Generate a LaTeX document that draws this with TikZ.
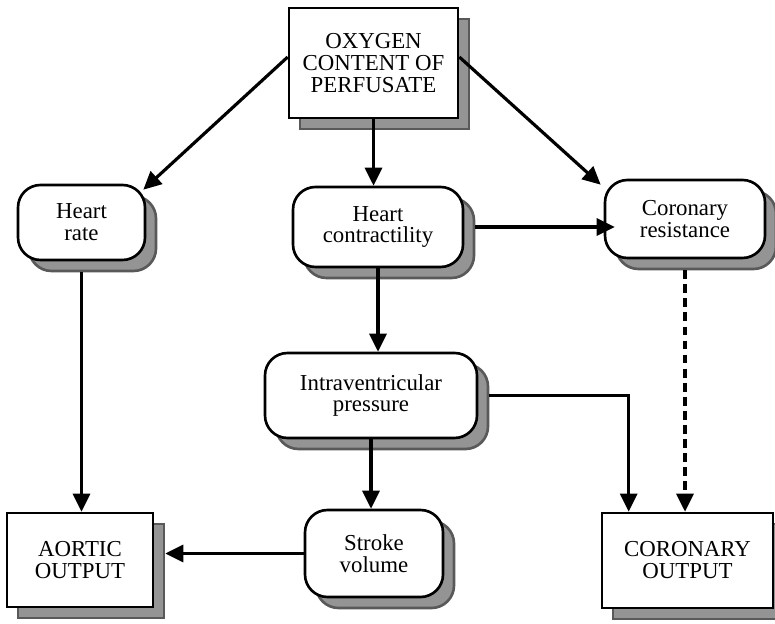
\documentclass[tikz,border=0pt]{standalone}
\usepackage{fontspec}
\setmainfont{Liberation Serif}
\usepackage{tikz}
\usetikzlibrary{calc,shadows,arrows.meta}
\tikzstyle{ombre} = [drop shadow={shadow xshift=0.22cm, shadow yshift=-0.22cm, fill=black!42, draw=black!65, opacity=1}]
\tikzstyle{boite} = [rectangle, draw=black, line width=1.5pt, fill=white, ombre, align=center, font=\fontsize{13}{12.5}\selectfont, inner sep=0pt]
\tikzstyle{arrondi} = [boite, rounded corners=0.45cm]
\tikzstyle{fleche} = [line width=1.8pt, -{Triangle[length=0.36cm, width=0.34cm]}]

\begin{document}
\begin{tikzpicture}
                \useasboundingbox (0,0) rectangle (15.5,-12.48);

                \node [boite, minimum width=3.38cm, minimum height=2.2cm] (oxy) at (7.47,-1.26) {OXYGEN\\CONTENT OF\\PERFUSATE};

                \node [arrondi, minimum width=2.54cm, minimum height=1.5cm] (hr) at (1.63,-4.45) {Heart\\rate};
                \node [arrondi, minimum width=3.4cm, minimum height=1.6cm] (contract) at (7.56,-4.54) {Heart\\contractility};
                \node [arrondi, minimum width=3.2cm, minimum height=1.56cm] (resist) at (13.7,-4.38) {Coronary\\resistance};

                \node [arrondi, minimum width=4.24cm, minimum height=1.7cm] (intra) at (7.42,-7.91) {Intraventricular\\pressure};
                \node [arrondi, minimum width=2.76cm, minimum height=1.74cm] (stroke) at (7.48,-11.07) {Stroke\\volume};

                \node [boite, minimum width=2.92cm, minimum height=1.88cm] (aortic) at (1.6,-11.2) {AORTIC\\OUTPUT};
                \node [boite, minimum width=3.42cm, minimum height=1.9cm] (cout) at (13.75,-11.21) {CORONARY\\OUTPUT};

                \draw[fleche] ([yshift=0.12cm]oxy.west) -- ([xshift=-0.06cm, yshift=-0.12cm]hr.north east);
                \draw[fleche] ([yshift=0.12cm]oxy.east) -- ([xshift=-0.06cm, yshift=-0.12cm]resist.north west);
                \draw[fleche] (oxy.south) -- (oxy.south |- contract.north);
                \draw[fleche] ([xshift=0.22cm]contract.east) -- ([xshift=0.22cm]contract.east -| resist.west);
                \draw[fleche] ([yshift=-0.22cm]hr.south) -- (hr.south |- aortic.north);
                \draw[fleche] (contract.south) -- (contract.south |- intra.north);
                \draw[fleche] (intra.south) -- (intra.south |- stroke.north);
                \draw[fleche, shorten >=0.22cm] (stroke.west) -- (stroke.west -| aortic.east);
                \draw[fleche] ([xshift=0.22cm]intra.east) -| ([xshift=0.56cm]cout.north west);
                \draw[fleche, dash pattern=on 5pt off 3pt] ([yshift=-0.22cm]resist.south) -- (resist.south |- cout.north);
            \end{tikzpicture}
\end{document}
